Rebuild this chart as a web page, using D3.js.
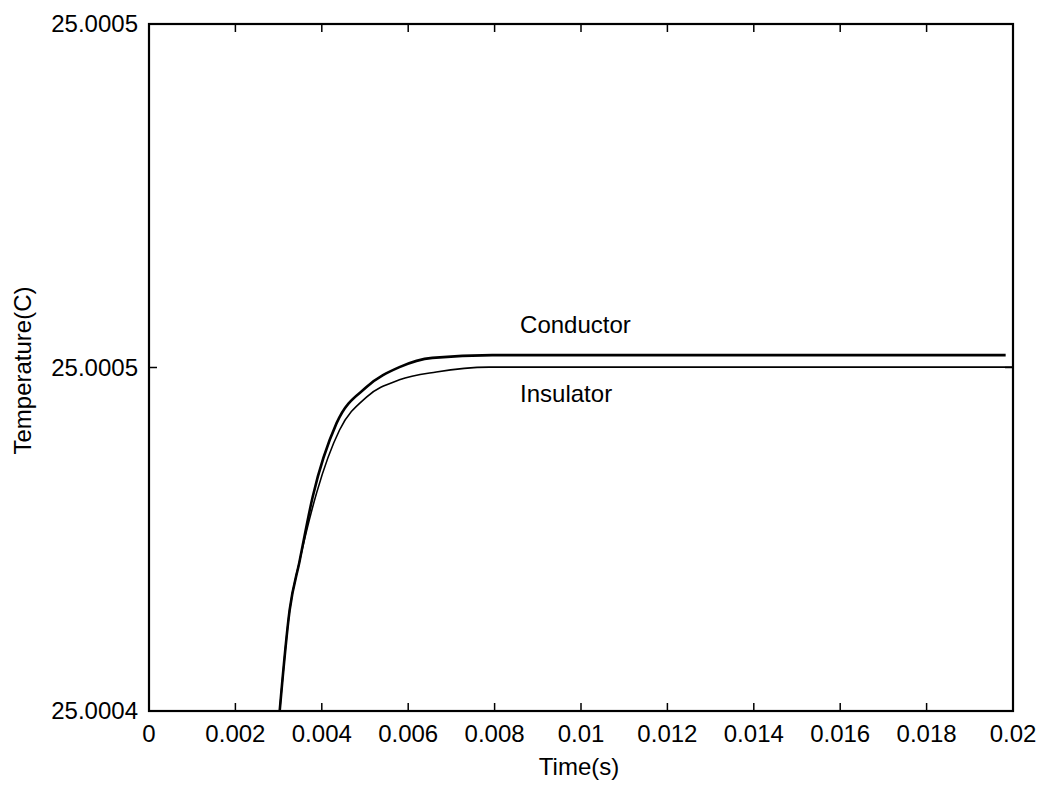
<!DOCTYPE html>
<html>
<head>
<meta charset="utf-8">
<script src="https://cdn.jsdelivr.net/npm/d3@7"></script>
<style>
  body { margin: 0; background: #fff; }
  text { font-family: "Liberation Sans", Arial, sans-serif; fill: #000; }
</style>
</head>
<body>
<div id="chart"></div>
<script>
// data
var timeConductor = [0.003025, 0.003256, 0.003487, 0.003788, 0.004342, 0.005035, 0.005797, 0.006559, 0.007945, 0.01983];
var tempConductor = [25.0004, 25.0004294, 25.0004437, 25.0004623, 25.0004838, 25.0004943, 25.0005001, 25.0005028, 25.0005036, 25.0005036];
var timeInsulator = [0.003025, 0.003256, 0.003487, 0.00388, 0.004411, 0.005035, 0.005797, 0.006651, 0.007875, 0.02];
var tempInsulator = [25.0004, 25.0004294, 25.0004437, 25.0004635, 25.0004818, 25.0004914, 25.0004964, 25.0004987, 25.0005001, 25.0005001];
var xTicks = [0, 0.002, 0.004, 0.006, 0.008, 0.01, 0.012, 0.014, 0.016, 0.018, 0.02];
var yTicks = [25.0004, 25.0005, 25.0006];
var yTickLabels = ["25.0004", "25.0005", "25.0005"];

var width = 1044;
var height = 785;
var margin = { top: 24, right: 31, bottom: 74, left: 149 };
var w = width - margin.left - margin.right;
var h = height - margin.top - margin.bottom;

var svg = d3.select("#chart").append("svg")
  .attr("width", width)
  .attr("height", height);

var g = svg.append("g")
  .attr("transform", "translate(" + margin.left + "," + margin.top + ")");

var x = d3.scaleLinear().domain([0, 0.02]).range([0, w]);
var y = d3.scaleLinear().domain([25.0004, 25.0006]).range([h, 0]);

// ticks, all pointing inward
var tickLen = 8;
g.selectAll(".xtb").data(xTicks.slice(1, -1)).enter().append("line")
  .attr("x1", d => x(d)).attr("x2", d => x(d))
  .attr("y1", h).attr("y2", h - tickLen)
  .attr("stroke", "#000").attr("stroke-width", 1.5);
g.selectAll(".xtt").data(xTicks.slice(1, -1)).enter().append("line")
  .attr("x1", d => x(d)).attr("x2", d => x(d))
  .attr("y1", 0).attr("y2", tickLen)
  .attr("stroke", "#000").attr("stroke-width", 1.5);
g.selectAll(".ytl").data(yTicks.slice(1, -1)).enter().append("line")
  .attr("x1", 0).attr("x2", tickLen)
  .attr("y1", d => y(d)).attr("y2", d => y(d))
  .attr("stroke", "#000").attr("stroke-width", 1.5);
g.selectAll(".ytr").data(yTicks.slice(1, -1)).enter().append("line")
  .attr("x1", w).attr("x2", w - tickLen)
  .attr("y1", d => y(d)).attr("y2", d => y(d))
  .attr("stroke", "#000").attr("stroke-width", 1.5);

// frame
g.append("rect")
  .attr("width", w).attr("height", h)
  .attr("fill", "none")
  .attr("stroke", "#000")
  .attr("stroke-width", 2.2);

// tick labels
g.selectAll(".xl").data(xTicks).enter().append("text")
  .attr("x", d => x(d))
  .attr("y", h + 31)
  .attr("text-anchor", "middle")
  .style("font-size", "24px")
  .text(d => d3.format("")(d));

g.selectAll(".yl").data(yTicks).enter().append("text")
  .attr("x", -11)
  .attr("y", d => y(d))
  .attr("dy", "0.35em")
  .attr("text-anchor", "end")
  .style("font-size", "24px")
  .text((d, i) => yTickLabels[i]);

// axis titles
svg.append("text")
  .attr("x", margin.left + x(0.01) - 2)
  .attr("y", 775)
  .attr("text-anchor", "middle")
  .style("font-size", "24px")
  .text("Time(s)");

svg.append("text")
  .attr("transform", "translate(31," + (margin.top + y(25.0005) + 3) + ") rotate(-90)")
  .attr("text-anchor", "middle")
  .style("font-size", "24px")
  .text("Temperature(C)");

// curves
var line = d3.line()
  .x(d => x(d[0]))
  .y(d => y(d[1]))
  .curve(d3.curveMonotoneX);

g.append("path")
  .datum(d3.zip(timeInsulator, tempInsulator))
  .attr("d", line)
  .attr("fill", "none")
  .attr("stroke", "#000")
  .attr("stroke-width", 1.6);

g.append("path")
  .datum(d3.zip(timeConductor, tempConductor))
  .attr("d", line)
  .attr("fill", "none")
  .attr("stroke", "#000")
  .attr("stroke-width", 2.6);

// curve labels
g.append("text")
  .attr("x", x(0.00859))
  .attr("y", y(25.0005036) - 22)
  .style("font-size", "24px")
  .text("Conductor");

g.append("text")
  .attr("x", x(0.00859))
  .attr("y", y(25.0005001) + 35)
  .style("font-size", "24px")
  .text("Insulator");
</script>
</body>
</html>
